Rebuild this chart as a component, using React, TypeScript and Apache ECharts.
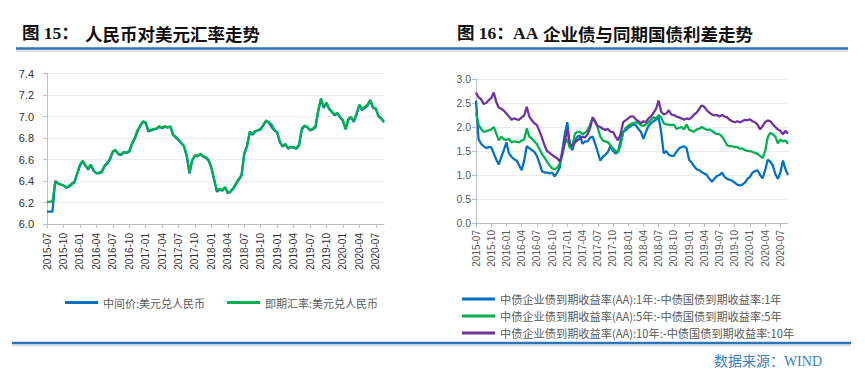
import React, { useEffect, useRef } from 'react';
import * as echarts from 'echarts';

// Semi-monthly observation dates (1st and 16th of each month), 2015-07 .. 2020-08
const obsDates: string[] = (() => {
  const out: string[] = [];
  for (let y = 2015; y <= 2020; y++) {
    const m0 = y === 2015 ? 7 : 1;
    const m1 = y === 2020 ? 8 : 12;
    for (let m = m0; m <= m1; m++) {
      const mm = String(m).padStart(2, '0');
      out.push(`${y}-${mm}-01`, `${y}-${mm}-16`);
    }
  }
  return out;
})();

// Quarter tick positions (months since 2015-07)
const quarterTicks: number[] = Array.from({ length: 21 }, (_, k) => k * 3);

// 中间价:美元兑人民币
const midRate: number[] = [
  6.116, 6.116, 6.116, 6.400, 6.380, 6.368, 6.360, 6.338, 6.345, 6.370, 6.385, 6.465,
  6.540, 6.580, 6.545, 6.505, 6.550, 6.495, 6.470, 6.472, 6.480, 6.535, 6.560, 6.600,
  6.670, 6.685, 6.650, 6.640, 6.668, 6.662, 6.672, 6.740, 6.790, 6.860, 6.910, 6.950,
  6.940, 6.860, 6.870, 6.880, 6.885, 6.905, 6.890, 6.905, 6.895, 6.905, 6.830, 6.805,
  6.780, 6.750, 6.720, 6.630, 6.470, 6.590, 6.635, 6.630, 6.650, 6.625, 6.615, 6.590,
  6.520, 6.410, 6.300, 6.320, 6.310, 6.340, 6.285, 6.300, 6.330, 6.370, 6.410, 6.450,
  6.650, 6.720, 6.850, 6.830, 6.860, 6.870, 6.880, 6.920, 6.960, 6.940, 6.900, 6.870,
  6.850, 6.760, 6.720, 6.740, 6.700, 6.715, 6.710, 6.700, 6.730, 6.880, 6.910, 6.900,
  6.870, 6.880, 6.900, 7.050, 7.160, 7.080, 7.120, 7.070, 7.040, 7.010, 7.030, 6.990,
  6.960, 6.880, 6.970, 6.990, 6.950, 7.020, 7.100, 7.060, 7.080, 7.100, 7.150, 7.080,
  7.070, 7.000, 6.980, 6.945,
];

// 即期汇率:美元兑人民币
const spotRate: number[] = [
  6.205, 6.207, 6.208, 6.392, 6.375, 6.366, 6.358, 6.342, 6.352, 6.375, 6.395, 6.470,
  6.550, 6.590, 6.550, 6.515, 6.552, 6.500, 6.475, 6.478, 6.490, 6.545, 6.568, 6.610,
  6.675, 6.690, 6.655, 6.645, 6.672, 6.665, 6.678, 6.750, 6.800, 6.870, 6.915, 6.955,
  6.945, 6.870, 6.875, 6.885, 6.890, 6.910, 6.895, 6.910, 6.900, 6.910, 6.835, 6.810,
  6.785, 6.755, 6.725, 6.640, 6.480, 6.595, 6.640, 6.635, 6.655, 6.630, 6.620, 6.595,
  6.525, 6.420, 6.310, 6.325, 6.315, 6.345, 6.290, 6.305, 6.335, 6.380, 6.420, 6.460,
  6.660, 6.730, 6.860, 6.840, 6.865, 6.875, 6.885, 6.925, 6.965, 6.945, 6.925, 6.875,
  6.855, 6.765, 6.725, 6.745, 6.705, 6.720, 6.715, 6.705, 6.740, 6.890, 6.915, 6.905,
  6.875, 6.885, 6.910, 7.060, 7.170, 7.090, 7.130, 7.075, 7.045, 7.020, 7.035, 6.995,
  6.965, 6.885, 6.980, 6.995, 6.960, 7.030, 7.110, 7.070, 7.090, 7.110, 7.155, 7.085,
  7.075, 7.005, 6.985, 6.950,
];

// 中债企业债到期收益率(AA) - 中债国债到期收益率 : 1年
const spread1Y: number[] = [
  2.55, 1.75, 1.65, 1.60, 1.56, 1.58, 1.58, 1.45, 1.32, 1.22, 1.38, 1.52,
  1.68, 1.45, 1.38, 1.33, 1.30, 1.20, 1.10, 1.30, 1.60, 1.56, 1.52, 1.48,
  1.40, 1.25, 1.08, 1.05, 1.05, 1.03, 1.05, 0.97, 1.05, 1.15, 1.50, 1.85,
  2.10, 1.60, 1.52, 1.72, 1.80, 1.82, 1.65, 1.70, 1.70, 1.78, 1.80, 1.65,
  1.48, 1.30, 1.38, 1.42, 1.48, 1.60, 1.50, 1.45, 1.48, 1.72, 1.90, 1.93,
  1.98, 2.02, 2.05, 2.04, 1.96, 1.90, 1.75, 1.90, 2.02, 2.08, 2.12, 2.15,
  2.20, 1.90, 1.45, 1.50, 1.42, 1.40, 1.40, 1.48, 1.55, 1.58, 1.60, 1.56,
  1.32, 1.26, 1.18, 1.12, 1.10, 1.06, 1.03, 1.00, 0.92, 0.86, 0.92, 0.98,
  1.00, 1.05, 0.96, 0.92, 0.90, 0.88, 0.84, 0.80, 0.78, 0.80, 0.84, 0.92,
  0.96, 1.05, 1.08, 1.10, 1.00, 0.93, 1.10, 1.32, 1.28, 1.20, 1.02, 0.92,
  1.05, 1.30, 1.12, 1.00,
];

// 5年
const spread5Y: number[] = [
  2.30, 2.05, 1.96, 1.90, 1.91, 1.93, 1.95, 2.00, 1.86, 1.72, 1.80, 1.74,
  1.73, 1.75, 1.68, 1.70, 1.69, 1.68, 1.72, 1.74, 1.97, 1.80, 1.76, 1.70,
  1.64, 1.54, 1.44, 1.36, 1.28, 1.20, 1.14, 1.12, 1.15, 1.24, 1.40, 1.65,
  1.75, 1.56, 1.62, 1.86, 1.90, 1.90, 1.85, 1.88, 1.94, 2.05, 2.20, 2.12,
  1.98, 1.80, 1.72, 1.70, 1.68, 1.62, 1.55, 1.50, 1.48, 1.62, 1.88, 1.98,
  2.03, 2.06, 2.08, 2.10, 2.08, 2.04, 2.02, 2.05, 2.10, 2.15, 2.20, 2.18,
  2.25, 2.20, 2.08, 2.05, 2.05, 2.04, 2.05, 1.96, 1.98, 2.00, 1.95, 2.05,
  1.95, 1.92, 1.90, 1.95, 1.96, 2.00, 1.97, 1.94, 1.95, 1.92, 1.88, 1.85,
  1.85, 1.80, 1.72, 1.62, 1.60, 1.60, 1.58, 1.58, 1.55, 1.55, 1.52, 1.50,
  1.50, 1.48, 1.46, 1.44, 1.40, 1.35, 1.50, 1.78, 1.88, 1.85, 1.80, 1.66,
  1.74, 1.70, 1.72, 1.65,
];

// 10年
const spread10Y: number[] = [
  2.72, 2.62, 2.58, 2.48, 2.50, 2.56, 2.60, 2.72, 2.52, 2.40, 2.38, 2.34,
  2.28, 2.22, 2.15, 2.18, 2.16, 2.15, 2.20, 2.24, 2.42, 2.22, 2.14, 2.08,
  2.04, 1.92, 1.78, 1.62, 1.50, 1.46, 1.42, 1.38, 1.35, 1.28, 1.45, 1.70,
  1.95, 1.65, 1.60, 1.68, 1.72, 1.76, 1.80, 1.78, 1.85, 1.98, 2.20, 2.10,
  2.02, 2.00, 1.96, 1.94, 1.96, 1.90, 1.90, 1.80, 1.72, 1.85, 2.10, 2.14,
  2.18, 2.22, 2.22, 2.16, 2.12, 2.08, 2.12, 2.10, 2.18, 2.22, 2.30, 2.38,
  2.55, 2.32, 2.26, 2.28, 2.35, 2.26, 2.25, 2.22, 2.20, 2.18, 2.15, 2.18,
  2.16, 2.20, 2.26, 2.30, 2.38, 2.45, 2.42, 2.35, 2.30, 2.26, 2.24, 2.25,
  2.22, 2.25, 2.22, 2.20, 2.15, 2.12, 2.10, 2.12, 2.10, 2.12, 2.15, 2.14,
  2.16, 2.12, 2.10, 2.05, 1.95, 2.02, 2.10, 2.14, 2.12, 2.06, 2.00, 1.95,
  1.92, 1.85, 1.92, 1.86,
];

const leftNames = ['中间价:美元兑人民币', '即期汇率:美元兑人民币'];
const rightNames = [
  '中债企业债到期收益率(AA):1年:-中债国债到期收益率:1年',
  '中债企业债到期收益率(AA):5年:-中债国债到期收益率:5年',
  '中债企业债到期收益率(AA):10年:-中债国债到期收益率:10年',
];

const BLUE = '#0070c0';
const GREEN = '#00b050';
const PURPLE = '#7030a0';
const RULE = '#2e75b6';

function toMonthIndex(d: string): number {
  const [y, m, day] = d.split('-').map(Number);
  return (y - 2015) * 12 + (m - 7) + (day - 1) / 30;
}

function monthLabel(v: number): string {
  const total = 6 + Math.round(v);
  const y = 2015 + Math.floor(total / 12);
  const m = (total % 12) + 1;
  return `${y}-${String(m).padStart(2, '0')}`;
}

function pairs(vals: number[]): [number, number][] {
  return vals.map((v, i) => [toMonthIndex(obsDates[i]), v]);
}

const SANS = '"Liberation Sans", Arial, "Noto Sans CJK SC", sans-serif';
const CJK = '"Noto Sans CJK SC", sans-serif';
const SERIF_CJK = '"Liberation Serif", "Times New Roman", "Noto Sans CJK SC", serif';

function makeX(gridIndex: number, color: string, margin: number) {
  return {
    type: 'value',
    gridIndex,
    min: 0,
    max: 61.5,
    interval: 3,
    splitLine: { show: false },
    axisLine: { show: true, onZero: false, lineStyle: { color: '#bfbfbf', width: 1 } },
    axisTick: { show: true, length: 4, customValues: quarterTicks, lineStyle: { color: '#bfbfbf' } },
    axisLabel: {
      rotate: 90,
      customValues: quarterTicks,
      formatter: (v: number) => (Math.abs(v % 3) < 1e-6 ? monthLabel(v) : ''),
      fontSize: 10,
      color,
      margin,
      fontFamily: SANS,
    },
  };
}

function makeY(gridIndex: number, min: number, max: number, interval: number, color: string, margin: number, fs: number) {
  return {
    type: 'value',
    gridIndex,
    min,
    max,
    interval,
    axisLine: { show: true, lineStyle: { color: '#bfbfbf', width: 1 } },
    axisTick: { show: true, length: 4, lineStyle: { color: '#bfbfbf' } },
    splitLine: { show: true, lineStyle: { color: '#ececec', width: 1 } },
    axisLabel: {
      formatter: (v: number) => v.toFixed(1),
      fontSize: fs,
      color,
      margin,
      fontFamily: SANS,
    },
  };
}

function lineSeries(name: string, vals: number[], color: string, idx: number) {
  return {
    type: 'line',
    name,
    xAxisIndex: idx,
    yAxisIndex: idx,
    data: pairs(vals),
    showSymbol: false,
    symbol: 'none',
    lineStyle: { color, width: 2.25 },
    itemStyle: { color },
    emphasis: { disabled: true },
  };
}

export default function App() {
  const ref = useRef<HTMLDivElement>(null);
  useEffect(() => {
    if (!ref.current) return;
    const chart = echarts.init(ref.current, undefined, { renderer: 'svg' });
    const titleStyle = (text: string, family: string) => ({
      text,
      fill: '#111111',
      fontSize: 17.5,
      fontWeight: 'bold',
      fontFamily: family,
      align: 'left',
      verticalAlign: 'middle',
      textAlign: 'left',
      textVerticalAlign: 'middle',
    });
    const option: any = {
      animation: false,
      backgroundColor: '#ffffff',
      grid: [
        { left: 47, top: 73.5, width: 337, height: 150.5 },
        { left: 476, top: 79, width: 312, height: 144 },
      ],
      xAxis: [makeX(0, '#333333', 9), makeX(1, '#595959', 7)],
      yAxis: [
        makeY(0, 6.0, 7.4, 0.2, '#333333', 13, 11),
        makeY(1, 0, 3, 0.5, '#595959', 5, 10.5),
      ],
      legend: [
        {
          data: leftNames,
          left: 60,
          top: 292,
          orient: 'horizontal',
          icon: 'rect',
          itemWidth: 33,
          itemHeight: 3,
          itemGap: 22,
          textStyle: { fontSize: 11, color: '#595959', fontFamily: CJK },
        },
        {
          data: rightNames,
          left: 457,
          top: 287,
          orient: 'vertical',
          icon: 'rect',
          itemWidth: 33,
          itemHeight: 3,
          itemGap: 3,
          textStyle: { fontSize: 11.2, lineHeight: 14, color: '#595959', fontFamily: CJK },
        },
      ],
      series: [
        lineSeries(leftNames[0], midRate, BLUE, 0),
        lineSeries(leftNames[1], spotRate, GREEN, 0),
        lineSeries(rightNames[0], spread1Y, BLUE, 1),
        lineSeries(rightNames[1], spread5Y, GREEN, 1),
        lineSeries(rightNames[2], spread10Y, PURPLE, 1),
      ],
      graphic: [
        // header rules
        { type: 'line', shape: { x1: 16, y1: 51, x2: 848, y2: 51 }, style: { stroke: '#e2e2e2', lineWidth: 2 } },
        { type: 'line', shape: { x1: 16, y1: 48.5, x2: 848, y2: 48.5 }, style: { stroke: RULE, lineWidth: 2.5 } },
        // titles
        { type: 'text', x: 22, y: 33, style: titleStyle('图 15：', SERIF_CJK) },
        { type: 'text', x: 85, y: 33, style: titleStyle('人民币对美元汇率走势', CJK) },
        { type: 'text', x: 457, y: 33, style: titleStyle('图 16：', SERIF_CJK) },
        { type: 'text', x: 513, y: 33, style: titleStyle('AA', SERIF_CJK) },
        { type: 'text', x: 543, y: 33, style: titleStyle('企业债与同期国债利差走势', CJK) },
        // footer rule
        { type: 'line', shape: { x1: 12, y1: 345.5, x2: 851, y2: 345.5 }, style: { stroke: '#e2e2e2', lineWidth: 2 } },
        { type: 'line', shape: { x1: 12, y1: 343, x2: 851, y2: 343 }, style: { stroke: RULE, lineWidth: 2.5 } },
        {
          type: 'text', x: 822, y: 361,
          style: { text: '数据来源：WIND', fill: '#3b7ec2', fontSize: 14, fontFamily: SERIF_CJK, align: 'right', verticalAlign: 'middle', textAlign: 'right', textVerticalAlign: 'middle' },
        },
      ],
    };
    chart.setOption(option);
    return () => {
      chart.dispose();
    };
  }, []);
  return (
    <div
      ref={ref}
      style={{ position: 'fixed', left: 0, top: 0, width: 865, height: 377, background: '#ffffff' }}
    />
  );
}
